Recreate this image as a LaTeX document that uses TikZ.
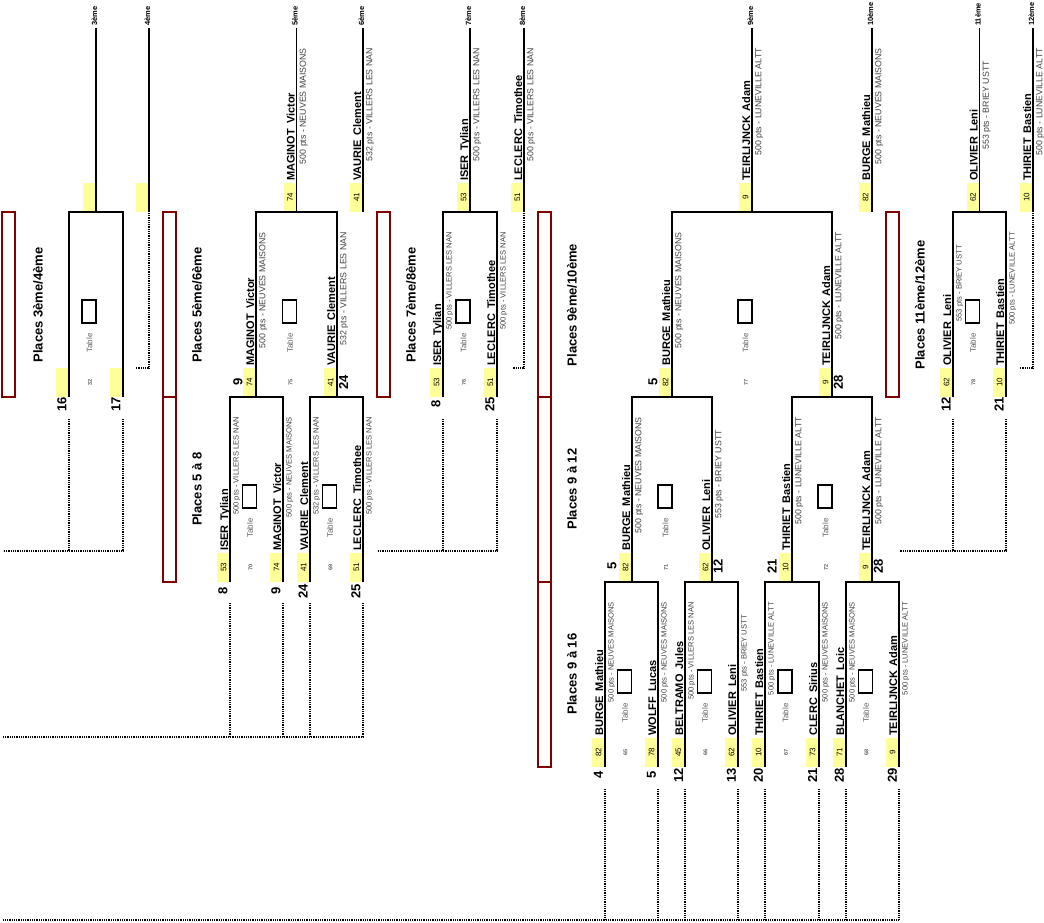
\documentclass[tikz,border=0pt]{standalone}
\usepackage{fontspec}
\setmainfont{Liberation Sans}
\definecolor{yel}{HTML}{FFFF99}
\definecolor{dred}{HTML}{800000}
\definecolor{subg}{HTML}{404040}
\definecolor{tabg}{HTML}{606060}
\newcommand\fs[1]{\fontsize{#1}{#1}\selectfont}
\newcommand\nsp{\hspace{0.45em}}
% player: x, ybot, y of sub-text top, yellow number, name, sub text, sub size
\newcommand\pl[7]{%
  \fill[yel] (#1-13,#2-29) rectangle (#1,#2);
  \node[rotate=90,inner sep=0,font=\fs{8}] at (#1-6.5,#2-14.5) {#4};
  \node[rotate=90,anchor=base west,inner sep=0,font=\bfseries\fs{11}] at (#1-2,#2-31) {#5};
  \node[rotate=90,anchor=north east,inner sep=0,text=subg,font=\fs{#7}] at (#1+3,#3) {#6};
}
\newcommand\ybx[2]{\fill[yel] (#1-13,#2-29) rectangle (#1,#2);}
\newcommand\brk[4]{\draw[br] (#1,#3) -- (#1,#4) -- (#2,#4) -- (#2,#3);}
\newcommand\tbl[3]{%
  \draw[tb] (#1-14,#2-97) rectangle (#1,#2-74);
  \node[rotate=90,inner sep=0,text=tabg,font=\fs{8}] at (#1-6.5,#2-54) {Table};
  \node[rotate=90,inner sep=0,text=tabg,font=\bfseries\fs{5.5}] at (#1-6,#2-15) {#3};
}
\newcommand\sd[3]{\node[rotate=90,inner sep=0,font=\bfseries\fs{13}] at (#1,#2) {#3};}
\newcommand\plc[3]{\node[rotate=90,inner sep=0,font=\bfseries\fs{13}] at (#1,#2) {#3};}
\newcommand\rk[2]{\node[rotate=90,anchor=west,inner sep=0,font=\bfseries\fs{7.5}] at (#1-1.5,26) {#2};}
\begin{document}
\begin{tikzpicture}[x=1pt,y=-1pt,
  br/.style={line width=1.8pt},
  tb/.style={line width=1.4pt},
  rb/.style={draw=dred,line width=1.5pt},
  dt/.style={line width=1.5pt,dash pattern=on 0.9pt off 0.9pt}]
\useasboundingbox (0,0) rectangle (1044,922);

% ---------- red boxes and labels
\draw[rb] (2,212) rectangle (15,397);
\draw[rb] (163,212) rectangle (176,397);
\draw[rb] (163,397) rectangle (176,582);
\draw[rb] (377,212) rectangle (390,397);
\draw[rb] (538,212) rectangle (551,397);
\draw[rb] (538,397) rectangle (551,582);
\draw[rb] (538,582) rectangle (551,767);
\draw[rb] (886,212) rectangle (899,397);
\plc{38}{305}{Places 3ème/4ème}
\plc{197}{305}{Places 5ème/6ème}
\plc{197}{489}{Places 5 à 8}
\plc{411}{305}{Places 7ème/8ème}
\plc{572}{305}{Places 9ème/10ème}
\plc{572}{489}{Places 9 à 12}
\plc{572}{674}{Places 9 à 16}
\plc{920}{305}{Places 11ème/12ème}

% ---------- top row (final places)
\ybx{96}{212}
\ybx{149}{212}
\pl{296.5}{212}{48}{74}{MAGINOT\nsp Victor}{500 pts - NEUVES MAISONS}{8.8}
\pl{363}{212}{48}{41}{VAURIE\nsp Clement}{532 pts - VILLERS LES NAN}{8.8}
\pl{470}{212}{48}{53}{ISER\nsp Tylian}{500 pts - VILLERS LES NAN}{8.8}
\pl{524}{212}{48}{51}{LECLERC\nsp Timothee}{500 pts - VILLERS LES NAN}{8.8}
\pl{752}{212}{48}{9}{TEIRLIJNCK\nsp Adam}{500 pts - LUNEVILLE ALTT}{8.8}
\pl{872}{212}{48}{82}{BURGE\nsp Mathieu}{500 pts - NEUVES MAISONS}{8.8}
\pl{979.5}{212}{61}{62}{OLIVIER\nsp Leni}{553 pts - BRIEY USTT}{8.8}
\pl{1033}{212}{48}{10}{THIRIET\nsp Bastien}{500 pts - LUNEVILLE ALTT}{8.8}
\rk{96}{3ème}\rk{149}{4ème}\rk{296.5}{5ème}\rk{363}{6ème}\rk{470}{7ème}
\rk{524}{8ème}\rk{752}{9ème}\rk{872}{10ème}\rk{979.5}{11ème}\rk{1033}{12ème}

% ---------- row 2
\ybx{69}{397}\ybx{123}{397}
\sd{62}{404}{16}\sd{116}{404}{17}
\tbl{96}{397}{32}
\pl{256}{397}{232}{74}{MAGINOT\nsp Victor}{500 pts - NEUVES MAISONS}{8.8}
\pl{337}{397}{232}{41}{VAURIE\nsp Clement}{532 pts - VILLERS LES NAN}{8.8}
\sd{238}{382}{9}\sd{343.5}{382}{24}
\tbl{296.5}{397}{75}
\pl{443}{397}{232}{53}{ISER\nsp Tylian}{500 pts - VILLERS LES NAN}{7.6}
\pl{497}{397}{232}{51}{LECLERC\nsp Timothee}{500 pts - VILLERS LES NAN}{7.6}
\sd{436}{404}{8}\sd{490}{404}{25}
\tbl{470}{397}{76}
\pl{672}{397}{232}{82}{BURGE\nsp Mathieu}{500 pts - NEUVES MAISONS}{8.8}
\pl{832}{397}{232}{9}{TEIRLIJNCK\nsp Adam}{500 pts - LUNEVILLE ALTT}{8.8}
\sd{653}{382}{5}\sd{838.5}{382}{28}
\tbl{752}{397}{77}
\pl{953}{397}{245}{62}{OLIVIER\nsp Leni}{553 pts - BRIEY USTT}{7.6}
\pl{1006}{397}{232}{10}{THIRIET\nsp Bastien}{500 pts - LUNEVILLE ALTT}{7.6}
\sd{946}{404}{12}\sd{999}{404}{21}
\tbl{979.5}{397}{78}

% ---------- row 3
\pl{230}{582}{417}{53}{ISER\nsp Tylian}{500 pts - VILLERS LES NAN}{7.6}
\pl{283}{582}{417}{74}{MAGINOT\nsp Victor}{500 pts - NEUVES MAISONS}{7.6}
\sd{223}{591}{8}\sd{276}{591}{9}
\tbl{256.5}{582}{70}
\pl{310}{582}{417}{41}{VAURIE\nsp Clement}{532 pts - VILLERS LES NAN}{7.6}
\pl{363}{582}{417}{51}{LECLERC\nsp Timothee}{500 pts - VILLERS LES NAN}{7.6}
\sd{303}{591}{24}\sd{356}{591}{25}
\tbl{336.5}{582}{69}
\pl{632}{582}{417}{82}{BURGE\nsp Mathieu}{500 pts - NEUVES MAISONS}{8.8}
\pl{712}{582}{430}{62}{OLIVIER\nsp Leni}{553 pts - BRIEY USTT}{8.8}
\sd{612}{566}{5}\sd{718}{566}{12}
\tbl{672}{582}{71}
\pl{792}{582}{417}{10}{THIRIET\nsp Bastien}{500 pts - LUNEVILLE ALTT}{8.8}
\pl{872}{582}{417}{9}{TEIRLIJNCK\nsp Adam}{500 pts - LUNEVILLE ALTT}{8.8}
\sd{772}{566}{21}\sd{878.5}{566}{28}
\tbl{832}{582}{72}

% ---------- row 4
\pl{605}{767}{602}{82}{BURGE\nsp Mathieu}{500 pts - NEUVES MAISONS}{7.6}
\pl{658}{767}{602}{78}{WOLFF\nsp Lucas}{500 pts - NEUVES MAISONS}{7.6}
\sd{598.5}{775}{4}\sd{651.5}{775}{5}
\tbl{631.5}{767}{65}
\pl{685}{767}{602}{45}{BELTRAMO\nsp Jules}{500 pts - VILLERS LES NAN}{7.6}
\pl{738}{767}{615}{62}{OLIVIER\nsp Leni}{553 pts - BRIEY USTT}{7.6}
\sd{678.5}{775}{12}\sd{731.5}{775}{13}
\tbl{711.5}{767}{66}
\pl{765}{767}{602}{10}{THIRIET\nsp Bastien}{500 pts - LUNEVILLE ALTT}{7.6}
\pl{819}{767}{602}{73}{CLERC\nsp Sirius}{500 pts - NEUVES MAISONS}{7.6}
\sd{758.5}{775}{20}\sd{812.5}{775}{21}
\tbl{792}{767}{67}
\pl{846}{767}{602}{71}{BLANCHET\nsp Loic}{500 pts - NEUVES MAISONS}{7.6}
\pl{899}{767}{602}{9}{TEIRLIJNCK\nsp Adam}{500 pts - LUNEVILLE ALTT}{7.6}
\sd{839.5}{775}{28}\sd{892.5}{775}{29}
\tbl{872.5}{767}{68}

% ---------- bracket lines
\foreach \x in {96,149,296.5,363,470,524,752,872,979.5,1033}
  \draw[br] (\x,212) -- (\x,28);
\brk{69}{123}{397}{212}
\brk{256}{337}{397}{212}
\brk{443}{497}{397}{212}
\brk{672}{832}{397}{212}
\brk{953}{1006}{397}{212}
\brk{230}{283}{582}{397}
\brk{310}{363}{582}{397}
\brk{632}{712}{582}{397}
\brk{792}{872}{582}{397}
\brk{605}{658}{767}{582}
\brk{685}{738}{767}{582}
\brk{765}{819}{767}{582}
\brk{846}{899}{767}{582}

% ---------- dotted feeders
\draw[dt] (149,213) -- (149,368) -- (135,368);
\draw[dt] (524,213) -- (524,368) -- (512,368);
\draw[dt] (1033,213) -- (1033,368) -- (1019,368);
\draw[dt] (69,419) -- (69,551);
\draw[dt] (123,419) -- (123,551) -- (3,551);
\draw[dt] (443,419) -- (443,551);
\draw[dt] (497,419) -- (497,551) -- (377,551);
\draw[dt] (953,419) -- (953,551);
\draw[dt] (1006,419) -- (1006,551) -- (900,551);
\foreach \x in {230,283,310}
  \draw[dt] (\x,603) -- (\x,737);
\draw[dt] (363,603) -- (363,737) -- (3,737);
\foreach \x in {605,658,685,738,765,819,846}
  \draw[dt] (\x,789) -- (\x,920);
\draw[dt] (899,789) -- (899,920) -- (3,920);
\end{tikzpicture}
\end{document}
